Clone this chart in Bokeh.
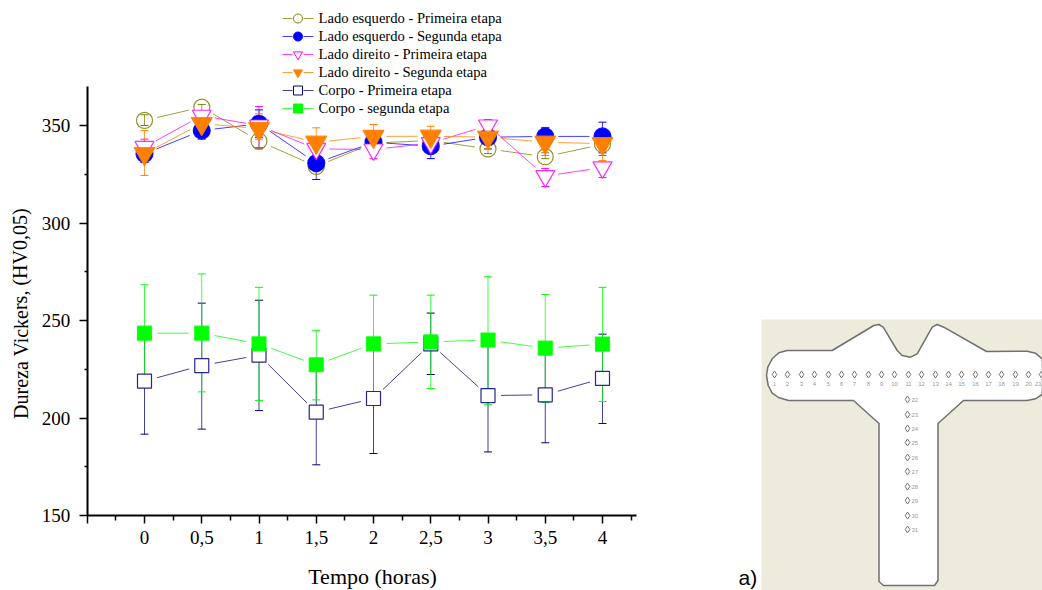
from bokeh.plotting import figure
from bokeh.models import Range1d, LinearAxis, FixedTicker
from bokeh.core.properties import value
from bokeh.embed import file_html
from bokeh.resources import INLINE

# ---- data -------------------------------------------------------------
tempo = [0, 0.5, 1, 1.5, 2, 2.5, 3, 3.5, 4]
tick_labels = {-0.5: "", 0: "0", 0.5: "0,5", 1: "1", 1.5: "1,5", 2: "2", 2.5: "2,5", 3: "3", 3.5: "3,5", 4: "4"}
y_ticks = [150, 200, 250, 300, 350]
y_minor = [175, 225, 275, 325]
x_minor = [-0.25, 0.25, 0.75, 1.25, 1.75, 2.25, 2.75, 3.25, 3.75, 4.25]

esq1 = [352.6, 359.4, 342, 329, 341, 342.3, 338, 334, 340.3]
esq1_up = [355.5, 360.8, 345, 331, 343, 344, 340, 336, 344]
esq1_lo = [350, 355.6, 338.7, 327, 339, 340, 335.6, 333, 334.6]
esq2 = [335.5, 347.4, 350.9, 330.7, 341.4, 339.4, 344, 344.4, 344.4]
esq2_up = [339, 349, 358, 339, 345, 344, 349, 349, 351.7]
esq2_lo = [331, 343, 344, 322.3, 338, 333, 338, 340, 336]
dir1 = [339, 355, 350, 338, 337.7, 341, 350, 324, 328.5]
dir1_up = [343, 357, 359.7, 341, 340, 344, 353, 328, 331]
dir1_lo = [336, 353, 338, 334, 333, 337, 345, 318.7, 323.3]
dir2 = [335.6, 351, 348.4, 341.4, 344.4, 344.5, 344, 341.4, 340.7]
dir2_up = [347.4, 354, 356, 348.8, 350.5, 349.6, 350, 348.6, 344]
dir2_lo = [324.4, 343, 343, 334, 339, 339, 338, 334.6, 332]
corpo1 = [218.9, 226.9, 232.2, 203, 210, 238, 211.5, 211.9, 220.3]
corpo1_up = [246, 258.9, 260.4, 230, 238, 253.8, 240, 236, 243]
corpo1_lo = [191.7, 194.3, 203.8, 176, 181.8, 222.3, 182.6, 187.3, 197.2]
corpo2 = [243.5, 243.5, 238, 227.3, 238, 239, 240, 235.8, 237.9]
corpo2_up = [268.3, 273.9, 267, 245, 263, 263, 272.4, 263.3, 267]
corpo2_lo = [218.2, 213.4, 209, 209.3, 212.9, 215.1, 206.8, 208, 208.5]

legend_names = ["Lado esquerdo - Primeira etapa", "Lado esquerdo - Segunda etapa",
                "Lado direito - Primeira etapa", "Lado direito - Segunda etapa",
                "Corpo - Primeira etapa", "Corpo - segunda etapa"]

# inset drawing of the specimen (page pixels)
shape_x = [766, 767.3, 771.7, 778.3, 786.7, 831.7, 873.3, 878.3, 882.7, 896.7, 901.7, 910, 916.7, 931.7, 936.7,
           943.3, 986, 1026.7, 1035, 1041.7, 1042, 1042, 1041.7, 1035, 1026.7, 963, 937.5, 937.5, 934, 883,
           878.5, 878.5, 853, 788, 778, 771.7, 767.7]
shape_y = [375, 366.7, 358.3, 352.3, 350, 350, 325, 324, 326.7, 350, 355, 356.7, 353.3, 326.7, 324,
           326.7, 351, 350.7, 352.7, 358.3, 362, 388, 394, 398.3, 400, 400, 423, 580, 585, 585,
           581, 423, 400, 400, 397, 392.7, 385]
row_x = [774, 787, 801, 814, 828, 841, 854, 868, 881, 894, 908, 921, 935, 948, 961, 975, 988, 1001, 1015, 1028, 1041]
row_labels = [str(i) for i in range(1, 22)]
col_y = [399, 414, 428, 442, 457, 471, 486, 500, 515, 529]
col_labels = [str(i) for i in range(22, 32)]

# ---- geometry ----------------------------------------------------------
W, H = 1042, 590
X0_PX, PX_PER_X = 144.0, 114.5     # page x of t=0, pixels per hour
Y150_PX, PX_PER_Y = 515.0, 1.95    # page y of 150 HV, pixels per HV
def px2x(px): return (px - X0_PX) / PX_PER_X
def px2y(py): return 150 + (Y150_PX - py) / PX_PER_Y

p = figure(width=W, height=H, output_backend="svg", toolbar_location=None,
           x_range=Range1d(px2x(0), px2x(W)), y_range=Range1d(px2y(H), px2y(0)),
           min_border=0, outline_line_color=None, background_fill_color="white",
           x_axis_type=None, y_axis_type=None)
p.grid.visible = False
p.extra_x_ranges = {"px": Range1d(0, W)}
p.extra_y_ranges = {"px": Range1d(H, 0)}

SERIF = "Liberation Serif"
xax = LinearAxis(ticker=FixedTicker(ticks=sorted(tick_labels), minor_ticks=x_minor),
                 major_label_overrides=tick_labels, fixed_location=150, bounds=(-0.5, 4.3))
yax = LinearAxis(ticker=FixedTicker(ticks=y_ticks, minor_ticks=y_minor), fixed_location=-0.5,
                 bounds=(150, 370))
for ax in (xax, yax):
    ax.axis_line_width = 2
    ax.axis_line_color = "black"
    ax.major_tick_line_width = 1.5
    ax.minor_tick_line_width = 1.5
    ax.major_tick_in = 0
    ax.minor_tick_in = 0
    ax.major_label_text_font = SERIF
    ax.major_label_text_font_size = "19px"
    ax.major_label_text_color = "black"
xax.major_tick_out = 8
xax.minor_tick_out = 5
yax.major_tick_out = 8
yax.minor_tick_out = 3
xax.major_label_standoff = 7
yax.major_label_standoff = 9
p.add_layout(xax, "below")
p.add_layout(yax, "left")

# axis titles, placed as in the reference (off-centre from the axes)
p.text([372], [576], text=["Tempo (horas)"], x_range_name="px", y_range_name="px", text_font=value(SERIF),
       text_font_size="22px", text_color="black", text_align="center", text_baseline="middle")
p.text([20], [313], text=["Dureza Vickers, (HV0,05)"], angle=[1.5708], x_range_name="px", y_range_name="px",
       text_font=value(SERIF), text_font_size="20px", text_color="black", text_align="center", text_baseline="middle")

GAP = 13.0
def gapped(xs, ys):
    x0, y0, x1, y1 = [], [], [], []
    for a, b, c, d in zip(xs[:-1], ys[:-1], xs[1:], ys[1:]):
        dx, dy = (c - a) * PX_PER_X, (d - b) * PX_PER_Y
        L = (dx * dx + dy * dy) ** 0.5
        if L <= 2 * GAP:
            continue
        f = GAP / L
        x0.append(a + (c - a) * f); y0.append(b + (d - b) * f)
        x1.append(c - (c - a) * f); y1.append(d - (d - b) * f)
    return x0, y0, x1, y1

series = [
    (esq1, esq1_up, esq1_lo, "#808000", "circle", 16, None),
    (esq2, esq2_up, esq2_lo, "#0000ff", "circle", 17, "#0000ff"),
    (dir1, dir1_up, dir1_lo, "#ff00ff", "inverted_triangle", 19, "white"),
    (dir2, dir2_up, dir2_lo, "#ff8000", "inverted_triangle", 21, "#ff8000"),
    (corpo1, corpo1_up, corpo1_lo, "#000080", "square", 14, "white"),
    (corpo2, corpo2_up, corpo2_lo, "#00ff00", "square", 14, "#00ff00"),
]
LINE_ALPHA = 0.75
for s, up, lo, col, mk, size, fill in series:
    p.segment(tempo, lo, tempo, up, line_color=col, line_width=1, line_alpha=LINE_ALPHA)
    for e in (up, lo):
        p.scatter(tempo, e, marker="dash", size=8, line_color=col, line_width=1)
for s, up, lo, col, mk, size, fill in series:
    x0, y0, x1, y1 = gapped(tempo, s)
    p.segment(x0, y0, x1, y1, line_color=col, line_width=1, line_alpha=LINE_ALPHA)
    p.scatter(tempo, s, marker=mk, size=size, line_color=col, line_width=1.2, line_alpha=0.85,
              fill_color=fill, fill_alpha=1 if fill else 0)

# ---- legend, in page pixels ---------------------------------------------
leg_y = [18, 36, 54, 72, 90, 108]
p.segment([282] * 6, leg_y, [292] * 6, leg_y, x_range_name="px", y_range_name="px",
          line_color=[r[3] for r in series], line_alpha=LINE_ALPHA)
p.segment([303] * 6, leg_y, [313] * 6, leg_y, x_range_name="px", y_range_name="px",
          line_color=[r[3] for r in series], line_alpha=LINE_ALPHA)
for yy, r in zip(leg_y, series):
    p.scatter([297.5], [yy], marker=r[4], size=9, x_range_name="px", y_range_name="px",
              line_color=r[3], fill_color=r[6], fill_alpha=1 if r[6] else 0)
p.text([318] * 6, [v - 1 for v in leg_y], text=legend_names, x_range_name="px", y_range_name="px",
       text_font=value(SERIF), text_font_size="14.6px", text_color="black", text_baseline="middle")

# ---- inset --------------------------------------------------------------
p.quad(left=[761], right=[1042], top=[319], bottom=[590], x_range_name="px", y_range_name="px",
       fill_color="#ecebdc", line_color=None)
p.patch(shape_x, shape_y, x_range_name="px", y_range_name="px", fill_color="white",
        line_color="#707070", line_width=1.5)
p.scatter(row_x, [374] * 21, marker="diamond", size=7, x_range_name="px", y_range_name="px",
          fill_color=None, line_color="#777777", line_width=1)
p.text(row_x[:-1], [383] * 20, text=row_labels[:-1], x_range_name="px", y_range_name="px", text_font=value("Liberation Sans"),
       text_font_size="6px", text_color="#999999", text_align="center", text_baseline="middle")
p.text([1041], [383], text=row_labels[-1:], x_range_name="px", y_range_name="px", text_font=value("Liberation Sans"),
       text_font_size="6px", text_color="#999999", text_align="right", text_baseline="middle")
p.scatter([907] * 10, col_y, marker="diamond", size=7, x_range_name="px", y_range_name="px",
          fill_color=None, line_color="#777777", line_width=1)
p.text([911] * 10, col_y, text=col_labels, x_range_name="px", y_range_name="px", text_font=value("Liberation Sans"),
       text_font_size="6px", text_color="#999999", text_baseline="middle")
p.text([738], [577], text=["a)"], x_range_name="px", y_range_name="px", text_font=value("Liberation Sans"),
       text_font_size="21px", text_color="black", text_baseline="middle")

open("out.html", "w").write(file_html(p, INLINE))
